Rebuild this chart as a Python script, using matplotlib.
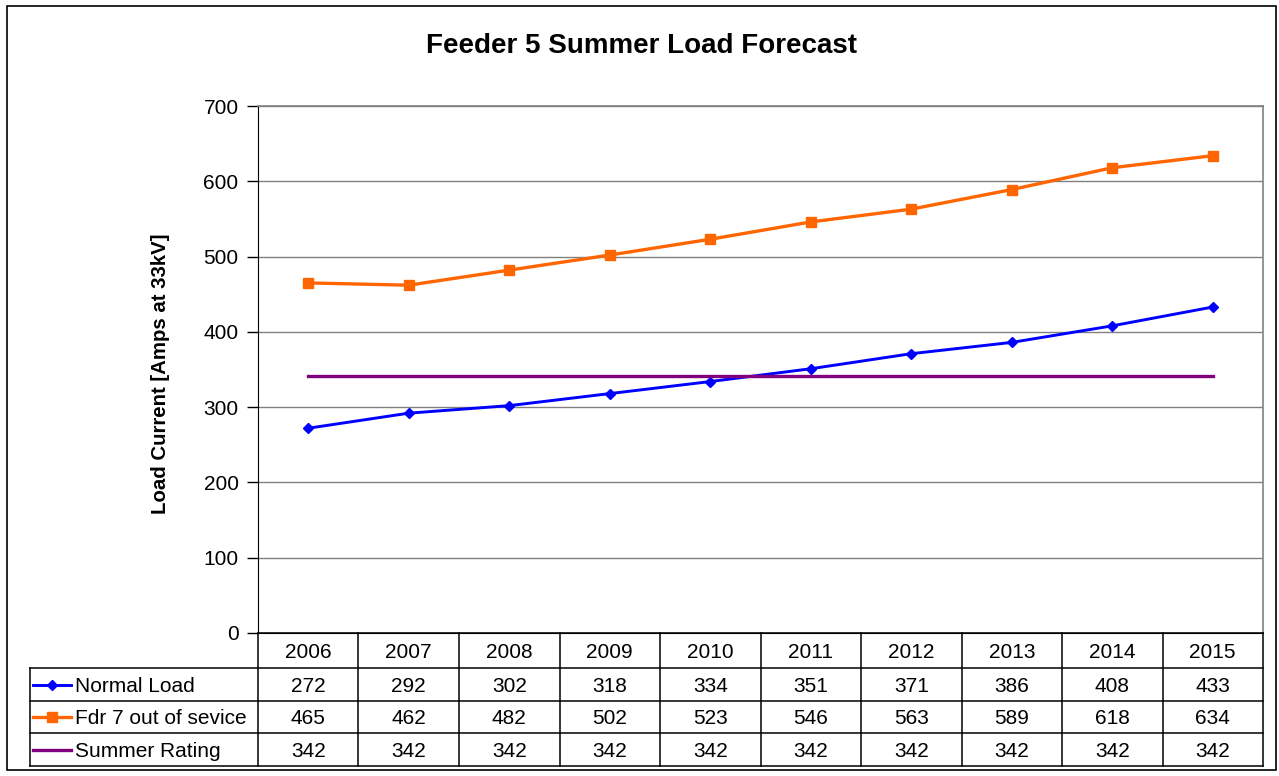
import matplotlib
matplotlib.use("Agg")
import matplotlib.pyplot as plt
from matplotlib.patches import Rectangle
from matplotlib.lines import Line2D

plt.rcParams['font.family'] = ['Liberation Sans', 'DejaVu Sans']

years = ['2006', '2007', '2008', '2009', '2010', '2011', '2012', '2013', '2014', '2015']
normal_load = [272, 292, 302, 318, 334, 351, 371, 386, 408, 433]
fdr7_out = [465, 462, 482, 502, 523, 546, 563, 589, 618, 634]
summer_rating = [342, 342, 342, 342, 342, 342, 342, 342, 342, 342]
series_names = ['Normal Load', 'Fdr 7 out of sevice', 'Summer Rating']
yticks = [0, 100, 200, 300, 400, 500, 600, 700]

W, H = 1279, 776
FS = 15
fig = plt.figure(figsize=(W / 100, H / 100), dpi=100)
fig.patch.set_facecolor('white')

# outer frame
fig.add_artist(Rectangle((7 / W, 1 - 770 / H), 1269 / W, 764 / H, transform=fig.transFigure,
                         fill=False, edgecolor='black', lw=1.2))

# main axes
px_l, px_r, px_t, px_b = 258, 1263, 106, 633
ax = fig.add_axes([px_l / W, 1 - px_b / H, (px_r - px_l) / W, (px_b - px_t) / H])
x = list(range(len(years)))
styles = [
    dict(color='#0000FF', marker='D', markersize=5.5, lw=2.1),
    dict(color='#FF6600', marker='s', markersize=7.5, lw=2.4),
    dict(color='#800080', marker=None, lw=2.4),
]
data = [normal_load, fdr7_out, summer_rating]
for vals, st in zip(data, styles):
    ax.plot(x, vals, zorder=3, **st)

ax.set_xlim(-0.5, len(years) - 0.5)
ax.set_ylim(0, 700)
ax.set_yticks(yticks)
ax.set_xticks([])
ax.yaxis.grid(True, color='#808080', lw=1)
ax.set_axisbelow(True)
for s in ['top', 'right']:
    ax.spines[s].set_color('#808080')
    ax.spines[s].set_linewidth(1.2)
ax.spines['left'].set_color('black')
ax.spines['bottom'].set_color('black')
ax.tick_params(axis='y', direction='out', length=8, width=1, pad=6, labelsize=FS)

fig.text(642 / W, 1 - 46 / H, 'Feeder 5 Summer Load Forecast', ha='center', va='center',
         fontsize=20, fontweight='bold')
fig.text(160 / W, 1 - 374 / H, 'Load Current [Amps at 33kV]', ha='center', va='center',
         rotation=90, fontsize=14.7, fontweight='bold')

# data table (x in category index units, y in pixels below the plot)
colw = (px_r - px_l) / len(years)
tbl_l, tbl_b = 30, 766
x_left = -0.5 - (px_l - tbl_l) / colw
tax = fig.add_axes([tbl_l / W, 1 - tbl_b / H, (px_r - tbl_l) / W, (tbl_b - px_b) / H])
tax.set_xlim(x_left, len(years) - 0.5)
tax.set_ylim(tbl_b - px_b, 0)
tax.axis('off')
n = len(years)
rows = [0, 35, 68, 100, 133]
lkw = dict(color='black', lw=1.1, clip_on=False)
tax.plot([-0.5, n - 0.5], [rows[0], rows[0]], **lkw)
for r in rows[1:]:
    tax.plot([x_left, n - 0.5], [r, r], **lkw)
for k in range(n + 1):
    tax.plot([-0.5 + k, -0.5 + k], [rows[0], rows[-1]], **lkw)
tax.plot([x_left, x_left], [rows[1], rows[-1]], **lkw)

def row_base(r):
    return (rows[r] + rows[r + 1]) / 2 + 7.5

for i, yr in enumerate(years):
    tax.text(i, row_base(0), yr, ha='center', va='baseline', fontsize=FS)
for r, (name, vals, st) in enumerate(zip(series_names, data, styles), start=1):
    for i, v in enumerate(vals):
        tax.text(i, row_base(r), str(v), ha='center', va='baseline', fontsize=FS)
    yc = (rows[r] + rows[r + 1]) / 2
    x0 = x_left + 3 / colw
    x1 = x_left + 41 / colw
    tax.add_line(Line2D([x0, x1], [yc, yc], color=st['color'], lw=st['lw'], clip_on=False))
    if st['marker']:
        tax.plot([(x0 + x1) / 2], [yc], marker=st['marker'], color=st['color'],
                 markersize=st['markersize'], clip_on=False)
    tax.text(x_left + 45 / colw, row_base(r), name, ha='left', va='baseline', fontsize=FS)

fig.savefig('out.png', dpi=100)
